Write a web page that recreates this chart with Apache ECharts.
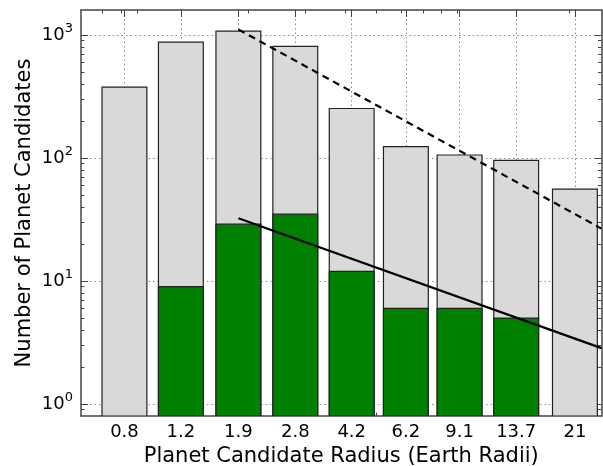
<!DOCTYPE html>
<html><head><meta charset="utf-8">
<script src="https://cdn.jsdelivr.net/npm/echarts@6/dist/echarts.min.js"></script>
<style>html,body{margin:0;padding:0;background:#fff}#c{width:603px;height:466px}</style>
</head><body><div id="c"></div>
<script>
// ---- data ----
const radiusLabels = ['0.8', '1.2', '1.9', '2.8', '4.2', '6.2', '9.1', '13.7', '21'];
const binCenters = [0.82, 1.23, 1.86, 2.80, 4.20, 6.20, 9.12, 13.7, 20.9];
const allCandidates = [377, 877, 1077, 810, 253, 124, 106, 96, 56];
const subsetCandidates = [null, 9, 29, 35, 12, 6, 6, 5, null];
const dashedFit = [[1.86, 1112], [25.3, 26.7]];
const solidFit = [[1.86, 32.4], [25.3, 2.85]];
const yMajorTicks = [1, 10, 100, 1000];
const yMinorTicks = [0.9, 2, 3, 4, 5, 6, 7, 8, 9, 20, 30, 40, 50, 60, 70, 80, 90, 200, 300, 400, 500, 600, 700, 800, 900];
const xMinorTicks = [0.7, 0.8, 0.9, 2, 3, 4, 5, 6, 7, 8, 9, 20];
const xRange = [0.6, 25.3];
const yRange = [0.8, 1600];

// ---- styling ----
const FONT = 'DejaVu Sans';
const frameColor = '#444';
const halfBarDecades = 0.07;

function labelFor(v) {
  let best = 0, bd = Infinity;
  binCenters.forEach((c, i) => { const d = Math.abs(Math.log10(c) - Math.log10(v)); if (d < bd) { bd = d; best = i; } });
  return radiusLabels[best];
}

function barSeries(values, fill, z) {
  return {
    type: 'custom', xAxisIndex: 0, yAxisIndex: 0, z: z,
    data: binCenters.map((c, i) => values[i] == null ? null : [c, values[i]]).filter(d => d),
    encode: { x: 0, y: 1 },
    clip: true,
    renderItem: function (params, api) {
      const c = api.value(0), v = api.value(1);
      const f = Math.pow(10, halfBarDecades);
      const pl = api.coord([c / f, v]);
      const pr = api.coord([c * f, v]);
      const cs = params.coordSys;
      const bottom = cs.y + cs.height;
      return {
        type: 'rect',
        shape: { x: pl[0], y: pl[1], width: pr[0] - pl[0], height: bottom - pl[1] },
        style: { fill: fill, stroke: '#222', lineWidth: 1.2 }
      };
    }
  };
}

function xAx(pos, ticks, len, extra) {
  return Object.assign({
    type: 'log', position: pos, min: xRange[0], max: xRange[1], logBase: 10,
    axisLine: { show: false, onZero: false },
    axisTick: { show: true, inside: true, length: len, customValues: ticks, lineStyle: { color: frameColor, width: 1 } },
    axisLabel: { show: false },
    splitLine: { show: false }
  }, extra || {});
}
function yAx(pos, ticks, len, extra) {
  return Object.assign({
    type: 'log', position: pos, min: yRange[0], max: yRange[1], logBase: 10,
    axisLine: { show: false, onZero: false },
    axisTick: { show: true, inside: true, length: len, customValues: ticks, lineStyle: { color: frameColor, width: 1 } },
    axisLabel: { show: false },
    splitLine: { show: false }
  }, extra || {});
}

const chart = echarts.init(document.getElementById('c'), null, { renderer: 'canvas' });
chart.setOption({
  animation: false,
  backgroundColor: '#fff',
  grid: { left: 81, right: 1.5, top: 10, bottom: 50, containLabel: false, outerBoundsMode: 'none' },
  xAxis: [
    xAx('bottom', binCenters, 7, {
      name: 'Planet Candidate Radius (Earth Radii)',
      nameLocation: 'middle', nameGap: 27,
      nameTextStyle: { fontFamily: FONT, fontSize: 21, color: '#000' },
      axisLine: { show: true, onZero: false, lineStyle: { color: frameColor, width: 1.5 } },
      axisLabel: {
        show: true, customValues: binCenters, margin: 7,
        fontFamily: FONT, fontSize: 18, color: '#000',
        formatter: function (v) { return labelFor(v); }
      },
      splitLine: { show: true, lineStyle: { color: '#888', width: 1, type: [1.5, 3] } }
    }),
    xAx('top', binCenters, 7, {
      axisLine: { show: true, onZero: false, lineStyle: { color: frameColor, width: 1.5 } }
    }),
    xAx('bottom', xMinorTicks, 3.5),
    xAx('top', xMinorTicks, 3.5)
  ],
  yAxis: [
    yAx('left', yMajorTicks, 7, {
      name: 'Number of Planet Candidates',
      nameLocation: 'middle', nameGap: 46, nameRotate: 90, nameMoveOverlap: false,
      nameTextStyle: { fontFamily: FONT, fontSize: 21, color: '#000' },
      axisLine: { show: true, onZero: false, lineStyle: { color: frameColor, width: 1.5 } },
      axisLabel: {
        show: true, customValues: yMajorTicks, margin: 8,
        formatter: function (v) { return '{b|10}{s|' + Math.round(Math.log10(v)) + '}'; },
        rich: {
          b: { fontFamily: FONT, fontSize: 18, color: '#000', lineHeight: 26 },
          s: { fontFamily: FONT, fontSize: 13, color: '#000', lineHeight: 13, verticalAlign: 'top' }
        }
      },
      splitLine: { show: true, lineStyle: { color: '#888', width: 1, type: [1.5, 3] } }
    }),
    yAx('right', yMajorTicks, 7, {
      axisLine: { show: true, onZero: false, lineStyle: { color: frameColor, width: 1.5 } }
    }),
    yAx('left', yMinorTicks, 3.5),
    yAx('right', yMinorTicks, 3.5)
  ],
  series: [
    barSeries(allCandidates, '#d9d9d9', 2),
    barSeries(subsetCandidates, '#008000', 3),
    {
      type: 'line', xAxisIndex: 0, yAxisIndex: 0, z: 5, data: dashedFit,
      symbol: 'none', silent: true,
      lineStyle: { color: '#000', width: 2.2, type: [7, 5] }
    },
    {
      type: 'line', xAxisIndex: 0, yAxisIndex: 0, z: 5, data: solidFit,
      symbol: 'none', silent: true,
      lineStyle: { color: '#000', width: 2.2 }
    }
  ]
});
</script></body></html>
